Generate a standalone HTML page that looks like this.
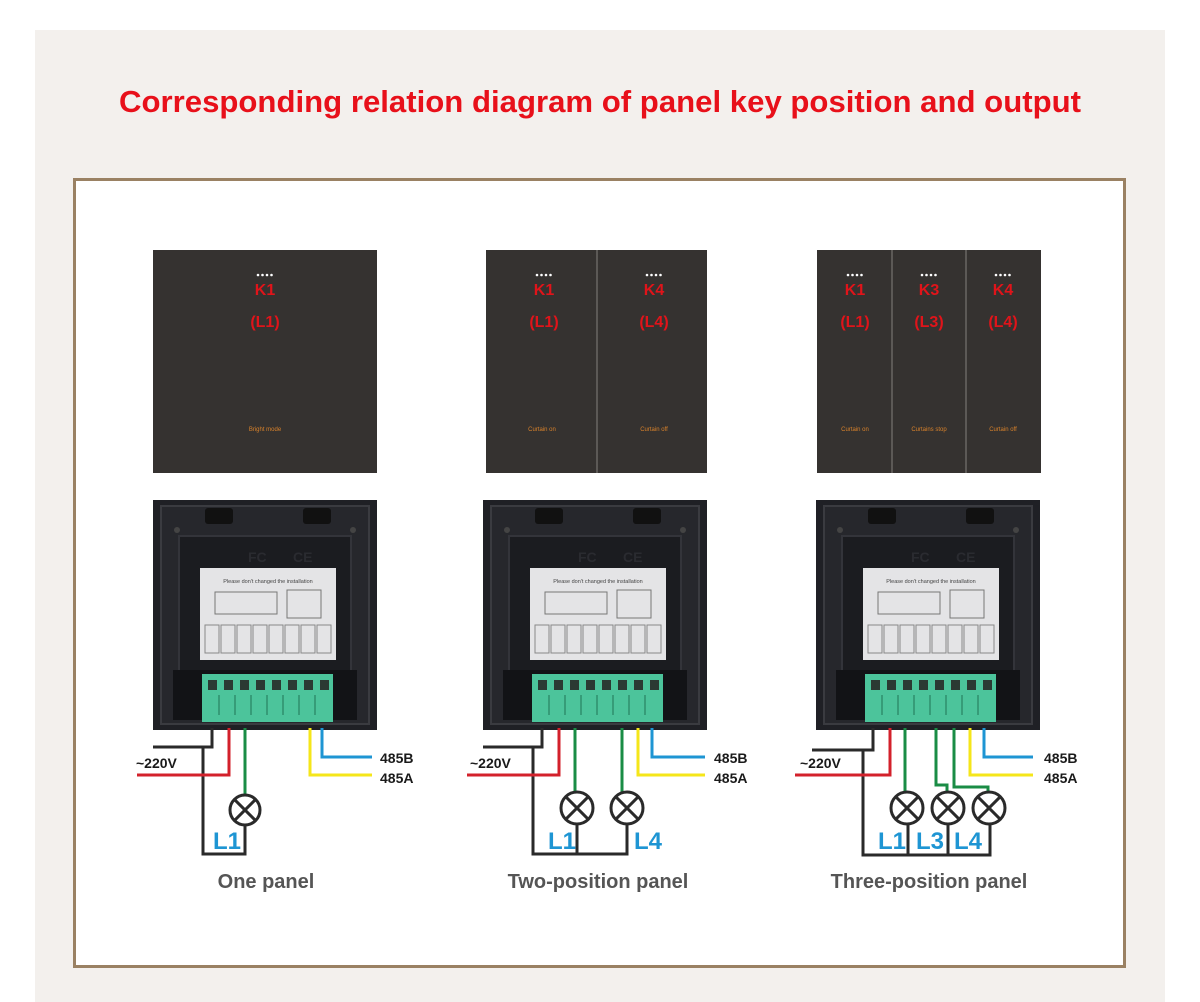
<!DOCTYPE html>
<html><head><meta charset="utf-8"><style>
html,body{margin:0;padding:0;background:#fff;}
svg{display:block;font-family:"Liberation Sans",sans-serif;}
</style></head><body>
<svg width="1200" height="1002" viewBox="0 0 1200 1002" xmlns="http://www.w3.org/2000/svg">
<defs>
<g id="back">
  <rect x="0" y="0" width="224" height="230" fill="#1f2025"/>
  <rect x="8" y="6" width="208" height="218" fill="#26272c" stroke="#3a3b40" stroke-width="2"/>
  <rect x="52" y="8" width="28" height="16" rx="3" fill="#111"/>
  <rect x="150" y="8" width="28" height="16" rx="3" fill="#111"/>
  <rect x="26" y="36" width="172" height="170" fill="#1b1c20" stroke="#33343a" stroke-width="2"/>
  <circle cx="24" cy="30" r="3" fill="#444"/><circle cx="200" cy="30" r="3" fill="#444"/>
  <circle cx="24" cy="210" r="3" fill="#444"/><circle cx="200" cy="210" r="3" fill="#444"/>
  <text x="95" y="62" font-size="14" fill="#2a2b30" font-weight="bold">FC</text>
  <text x="140" y="62" font-size="14" fill="#2a2b30" font-weight="bold">CE</text>
  <rect x="47" y="68" width="136" height="92" fill="#e4e4e6"/>
  <text x="115" y="83" font-size="5.5" fill="#444" text-anchor="middle">Please don't changed the installation</text>
  <rect x="62" y="92" width="62" height="22" fill="none" stroke="#777" stroke-width="1"/>
  <rect x="134" y="90" width="34" height="28" fill="none" stroke="#777" stroke-width="1"/>
  <g fill="none" stroke="#888" stroke-width="1">
   <rect x="52" y="125" width="14" height="28"/><rect x="68" y="125" width="14" height="28"/>
   <rect x="84" y="125" width="14" height="28"/><rect x="100" y="125" width="14" height="28"/>
   <rect x="116" y="125" width="14" height="28"/><rect x="132" y="125" width="14" height="28"/>
   <rect x="148" y="125" width="14" height="28"/><rect x="164" y="125" width="14" height="28"/>
  </g>
  <rect x="20" y="170" width="184" height="50" fill="#121316"/>
  <rect x="49" y="174" width="131" height="48" fill="#4cc49b"/>
  <g fill="#2b3a33">
   <rect x="55" y="180" width="9" height="10"/><rect x="71" y="180" width="9" height="10"/>
   <rect x="87" y="180" width="9" height="10"/><rect x="103" y="180" width="9" height="10"/>
   <rect x="119" y="180" width="9" height="10"/><rect x="135" y="180" width="9" height="10"/>
   <rect x="151" y="180" width="9" height="10"/><rect x="167" y="180" width="9" height="10"/>
  </g>
  <g stroke="#2f8f6c" stroke-width="1.5">
   <line x1="66" y1="195" x2="66" y2="215"/><line x1="82" y1="195" x2="82" y2="215"/>
   <line x1="98" y1="195" x2="98" y2="215"/><line x1="114" y1="195" x2="114" y2="215"/>
   <line x1="130" y1="195" x2="130" y2="215"/><line x1="146" y1="195" x2="146" y2="215"/>
   <line x1="162" y1="195" x2="162" y2="215"/>
  </g>
</g>
</defs>
<rect width="1200" height="1002" fill="#fff"/>
<rect x="35" y="30" width="1130" height="972" fill="#f3f0ed"/>
<text x="600" y="112" font-size="31" font-weight="bold" fill="#e8101a" text-anchor="middle" textLength="962" lengthAdjust="spacingAndGlyphs">Corresponding relation diagram of panel key position and output</text>
<rect x="74.5" y="179.5" width="1050" height="787" fill="#fff" stroke="#9a8163" stroke-width="3"/>

<g fill="#353230">
 <rect x="153" y="250" width="224" height="223"/>
 <rect x="486" y="250" width="221" height="223"/>
 <rect x="817" y="250" width="224" height="223"/>
</g>
<g stroke="#6a6662" stroke-width="1.5">
 <line x1="597" y1="250" x2="597" y2="473"/>
 <line x1="892" y1="250" x2="892" y2="473"/>
 <line x1="966" y1="250" x2="966" y2="473"/>
</g>
<g font-weight="bold" text-anchor="middle" fill="#e0141a" font-size="16">
 <text x="265" y="295">K1</text><text x="265" y="327">(L1)</text>
 <text x="544" y="295">K1</text><text x="544" y="327">(L1)</text>
 <text x="654" y="295">K4</text><text x="654" y="327">(L4)</text>
 <text x="855" y="295">K1</text><text x="855" y="327">(L1)</text>
 <text x="929" y="295">K3</text><text x="929" y="327">(L3)</text>
 <text x="1003" y="295">K4</text><text x="1003" y="327">(L4)</text>
</g>
<g fill="#fff">
 <g id="dots"><circle cx="258" cy="275" r="1.3"/><circle cx="262.5" cy="275" r="1.3"/><circle cx="267" cy="275" r="1.3"/><circle cx="271.5" cy="275" r="1.3"/></g>
 <use href="#dots" x="279"/><use href="#dots" x="389"/>
 <use href="#dots" x="590"/><use href="#dots" x="664"/><use href="#dots" x="738"/>
</g>
<g fill="#d9822b" text-anchor="middle" font-size="6">
 <text x="265" y="431">Bright mode</text>
 <text x="542" y="431">Curtain on</text><text x="654" y="431">Curtain off</text>
 <text x="855" y="431">Curtain on</text><text x="929" y="431">Curtains stop</text><text x="1003" y="431">Curtain off</text>
</g>

<use href="#back" x="153" y="500"/>
<use href="#back" x="483" y="500"/>
<use href="#back" x="816" y="500"/>

<g fill="none" stroke-width="3">
 <polyline points="212,728 212,747 153,747" stroke="#2a2a2a"/>
 <polyline points="203,747 203,854 245,854 245,825" stroke="#2a2a2a"/>
 <polyline points="229,728 229,775 137,775" stroke="#d3212b"/>
 <polyline points="245,728 245,795" stroke="#1a8c45"/>
 <polyline points="310,728 310,775 372,775" stroke="#f5e61a"/>
 <polyline points="322,728 322,757 372,757" stroke="#1e95d3"/>
 <polyline points="542,728 542,747 483,747" stroke="#2a2a2a"/>
 <polyline points="533,747 533,854 627,854 627,824" stroke="#2a2a2a"/>
 <polyline points="577,824 577,854" stroke="#2a2a2a"/>
 <polyline points="559,728 559,775 467,775" stroke="#d3212b"/>
 <polyline points="575,728 575,792" stroke="#1a8c45"/>
 <polyline points="622,728 622,792" stroke="#1a8c45"/>
 <polyline points="638,728 638,775 705,775" stroke="#f5e61a"/>
 <polyline points="652,728 652,757 705,757" stroke="#1e95d3"/>
 <polyline points="873,728 873,750 812,750" stroke="#2a2a2a"/>
 <polyline points="863,750 863,855 990,855 990,824" stroke="#2a2a2a"/>
 <polyline points="908,824 908,855" stroke="#2a2a2a"/>
 <polyline points="948,824 948,855" stroke="#2a2a2a"/>
 <polyline points="890,728 890,775 795,775" stroke="#d3212b"/>
 <polyline points="905,728 905,792" stroke="#1a8c45"/>
 <polyline points="936,728 936,785 947,785 947,792" stroke="#1a8c45"/>
 <polyline points="954,728 954,787 988,787 988,792" stroke="#1a8c45"/>
 <polyline points="970,728 970,775 1033,775" stroke="#f5e61a"/>
 <polyline points="984,728 984,757 1033,757" stroke="#1e95d3"/>
</g>
<g fill="#fff" stroke="#2a2a2a" stroke-width="3">
 <circle cx="245" cy="810" r="15"/>
 <circle cx="577" cy="808" r="16"/><circle cx="627" cy="808" r="16"/>
 <circle cx="907" cy="808" r="16"/><circle cx="948" cy="808" r="16"/><circle cx="989" cy="808" r="16"/>
</g>
<g stroke="#2a2a2a" stroke-width="3">
 <path d="M234.4 799.4 L255.6 820.6 M255.6 799.4 L234.4 820.6"/>
 <path d="M565.7 796.7 L588.3 819.3 M588.3 796.7 L565.7 819.3"/>
 <path d="M615.7 796.7 L638.3 819.3 M638.3 796.7 L615.7 819.3"/>
 <path d="M895.7 796.7 L918.3 819.3 M918.3 796.7 L895.7 819.3"/>
 <path d="M936.7 796.7 L959.3 819.3 M959.3 796.7 L936.7 819.3"/>
 <path d="M977.7 796.7 L1000.3 819.3 M1000.3 796.7 L977.7 819.3"/>
</g>
<g font-weight="bold" font-size="14" fill="#1a1a1a">
 <text x="136" y="768">~220V</text>
 <text x="380" y="763">485B</text><text x="380" y="783">485A</text>
 <text x="470" y="768">~220V</text>
 <text x="714" y="763">485B</text><text x="714" y="783">485A</text>
 <text x="800" y="768">~220V</text>
 <text x="1044" y="763">485B</text><text x="1044" y="783">485A</text>
</g>
<g font-weight="bold" font-size="24" fill="#1e95d3">
 <text x="213" y="849">L1</text>
 <text x="548" y="849">L1</text><text x="634" y="849">L4</text>
 <text x="878" y="849">L1</text><text x="916" y="849">L3</text><text x="954" y="849">L4</text>
</g>
<g font-weight="bold" font-size="20" fill="#555" text-anchor="middle">
 <text x="266" y="888">One panel</text>
 <text x="598" y="888">Two-position panel</text>
 <text x="929" y="888">Three-position panel</text>
</g>
</svg>
</body></html>
